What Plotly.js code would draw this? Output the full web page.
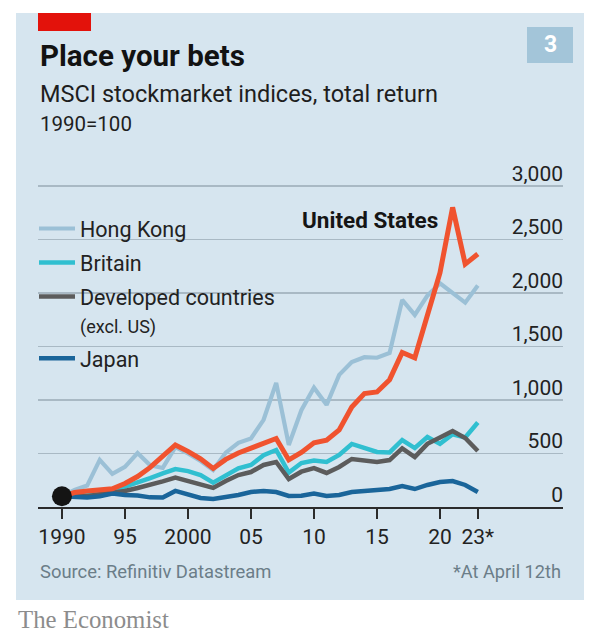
<!DOCTYPE html>
<html>
<head>
<meta charset="utf-8">
<script src="https://cdn.plot.ly/plotly-3.0.1.min.js"></script>
<style>html,body{margin:0;padding:0;background:#fff;}#chart{width:600px;height:639px;}</style>
</head>
<body>
<div id="chart"></div>
<script>
const years = [1990,1991,1992,1993,1994,1995,1996,1997,1998,1999,2000,2001,2002,2003,2004,2005,2006,2007,2008,2009,2010,2011,2012,2013,2014,2015,2016,2017,2018,2019,2020,2021,2022,2023];
const unitedStates = [100,135,150,160,170,220,285,370,470,580,520,450,360,445,505,550,600,640,440,510,600,625,720,935,1060,1075,1190,1445,1395,1800,2190,2800,2270,2365];
const hongKong = [100,160,200,440,310,375,505,390,365,560,500,430,345,508,600,640,815,1160,580,905,1115,955,1235,1355,1400,1395,1440,1935,1795,1975,2090,2005,1910,2070];
const britain = [100,115,125,155,150,190,225,270,315,355,335,298,228,295,362,393,485,533,322,411,435,421,486,589,551,514,510,626,551,654,590,680,650,790];
const developed = [100,95,100,120,130,150,178,206,240,275,245,215,178,243,299,327,393,421,262,330,364,318,374,449,430,421,439,548,467,590,650,710,645,523];
const japan = [100,95,88,100,125,112,108,90,88,150,112,84,75,93,112,140,150,140,103,105,125,103,112,140,150,159,168,196,168,206,234,243,206,140];
const xTickVals = [1990,1995,2000,2005,2010,2015,2020,2023];
const xTickText = ['1990','95','2000','05','10','15','20','23*'];
const yTickVals = [0,500,1000,1500,2000,2500,3000];
const yTickText = ['0','500','1,000','1,500','2,000','2,500','3,000'];

const FONT = 'Roboto, "Noto Sans", sans-serif';
const L = 38, R = 563, T = 150, B = 507;
const PX_PER_UNIT = 321 / 3000;
function px(x){ return (x - L) / (R - L); }
function py(y){ return (B - y) / (B - T); }

function line(name, y, color, width, show){
  return {x: years, y: y, name: name, type: 'scatter', mode: 'lines',
    line: {color: color, width: width, shape: 'linear'}, showlegend: show,
    legendgroup: name, hoverinfo: 'skip'};
}

const data = [
  line('Hong Kong', hongKong, '#9bc0d6', 4.2, true),
  line('Britain', britain, '#30bfd0', 4.5, true),
  line('Developed countries<br><span style="font-size:18px">(excl. US)</span>', developed, '#5c5c5c', 4.5, true),
  line('Japan', japan, '#1a659a', 4.5, true),
  line('United States', unitedStates, '#f0532f', 5, false),
  {x: [years[0]], y: [unitedStates[0]], type: 'scatter', mode: 'markers',
   marker: {color: '#141414', size: 20}, showlegend: false, hoverinfo: 'skip'}
];

const ann = (text, x, y, size, color, extra) => Object.assign({
  text: text, x: px(x), y: py(y), xref: 'paper', yref: 'paper',
  xanchor: 'left', yanchor: 'middle', showarrow: false,
  font: {family: FONT, size: size, color: color}}, extra || {});

const layout = {
  width: 600, height: 639,
  margin: {l: L, r: 600 - R, t: T, b: 639 - B},
  paper_bgcolor: '#ffffff', plot_bgcolor: 'rgba(0,0,0,0)',
  font: {family: FONT, color: '#222'},
  hovermode: false,
  xaxis: {range: [1988.1, 2029.76], tickvals: xTickVals, ticktext: xTickText,
    showgrid: false, zeroline: false, showline: true, linecolor: '#2b2b2b', linewidth: 1.6,
    ticks: 'outside', ticklen: 10, tickwidth: 1.5, tickcolor: '#2b2b2b',
    tickfont: {size: 21, color: '#222'}, fixedrange: true},
  yaxis: {range: [0, (B - T) / PX_PER_UNIT], tickvals: yTickVals, ticktext: yTickText, side: 'right',
    ticklabelposition: 'inside top', ticklabelstandoff: -3, ticklabelshift: 2,
    showgrid: true, gridcolor: '#a9b9c4', gridwidth: 1.4,
    zeroline: false, showline: false, ticks: '', tickfont: {size: 21, color: '#222'}, fixedrange: true},
  legend: {x: px(34), y: py(208), xanchor: 'left', yanchor: 'top', bgcolor: 'rgba(0,0,0,0)',
    font: {size: 21.5, color: '#222', family: FONT}, itemwidth: 36, valign: 'top',
    traceorder: 'grouped', tracegroupgap: 3},
  shapes: [
    {type: 'rect', xref: 'paper', yref: 'paper', x0: px(16), x1: px(584), y0: py(600), y1: py(13),
     fillcolor: '#d6e5ef', line: {width: 0}, layer: 'below'},
    {type: 'rect', xref: 'paper', yref: 'paper', x0: px(38), x1: px(91), y0: py(31), y1: py(13),
     fillcolor: '#e3120b', line: {width: 0}, layer: 'below'},
    {type: 'rect', xref: 'paper', yref: 'paper', x0: px(527), x1: px(573), y0: py(63), y1: py(27),
     fillcolor: '#a3c5d9', line: {width: 0}, layer: 'below'}
  ],
  annotations: [
    ann('<b>Place your bets</b>', 38, 56, 29.5, '#121212'),
    ann('MSCI stockmarket indices, total return', 38, 94, 23.5, '#1e1e1e'),
    ann('1990=100', 38, 124, 20.5, '#1e1e1e'),
    ann('<b>3</b>', 550, 45, 23, '#ffffff', {xanchor: 'center'}),
    ann('<b>United States</b>', 300, 220, 22.5, '#151515'),
    ann('Source: Refinitiv Datastream', 38, 571, 18.4, '#6b7d88'),
    ann('*At April 12th', 563, 571, 18.2, '#6b7d88', {xanchor: 'right'}),
    ann('The Economist', 16, 619, 24.8, '#8c8c8c', {font: {family: '"Liberation Serif", serif', size: 24.8, color: '#8c8c8c'}})
  ]
};

Plotly.newPlot('chart', data, layout, {displayModeBar: false, staticPlot: true});
</script>
</body>
</html>
